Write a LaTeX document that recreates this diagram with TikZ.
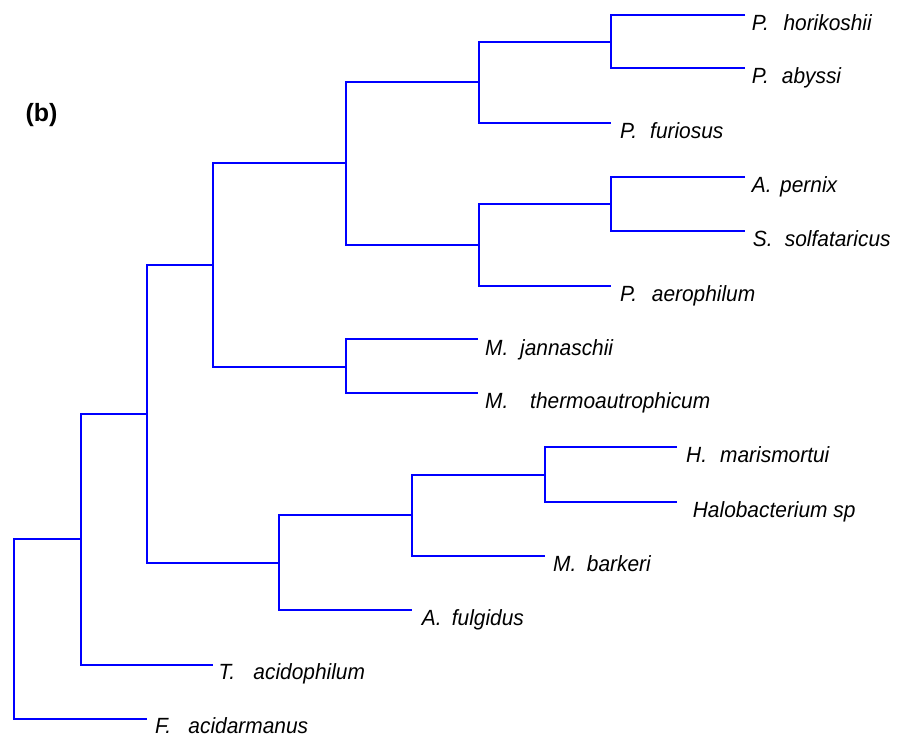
\documentclass[tikz,border=0pt]{standalone}
\usepackage{fontspec}
\newfontfamily\labfont{Liberation Sans}[FakeStretch=0.95]
\newfontfamily\tagfont{Liberation Sans}
\definecolor{treeblue}{RGB}{0,0,255}
\tikzset{
  branch/.style={draw=treeblue, line width=1.35pt},
  taxon/.style={anchor=base west, inner sep=0pt, text=black, font=\labfont\fontsize{22}{24}\selectfont\itshape},
}
\newcommand{\gen}[2]{\makebox[#1pt][l]{#2}}
\begin{document}
\begin{tikzpicture}[x=1pt,y=-1pt]
\useasboundingbox (0,0) rectangle (902,739);
% internal nodes
\coordinate (root) at (14,629);
\coordinate (n80) at (81,539);
\coordinate (n147) at (147,414);
\coordinate (n213) at (213,265);
\coordinate (n346a) at (346,163);
\coordinate (n480a) at (479,82);
\coordinate (n611a) at (611,42);
\coordinate (n480b) at (479,245);
\coordinate (n611b) at (611,204);
\coordinate (n346b) at (346,367);
\coordinate (n278) at (279,563);
\coordinate (n412) at (412,515);
\coordinate (n545) at (545,475);
% leaf ends
\coordinate (Phor) at (745,15);
\coordinate (Paby) at (745,68);
\coordinate (Pfur) at (611,123);
\coordinate (Aper) at (745,177);
\coordinate (Ssol) at (745,231);
\coordinate (Paer) at (611,286);
\coordinate (Mjan) at (478,339);
\coordinate (Mthe) at (478,393);
\coordinate (Hmar) at (677,447);
\coordinate (Halo) at (677,502);
\coordinate (Mbar) at (545,556);
\coordinate (Aful) at (412,610);
\coordinate (Taci) at (213,665);
\coordinate (Faci) at (147,719);
% branches
\draw[branch] (n80) -| (root) |- (Faci);
\draw[branch] (n147) -| (n80) |- (Taci);
\draw[branch] (n213) -| (n147) |- (n278);
\draw[branch] (n346a) -| (n213) |- (n346b);
\draw[branch] (n480a) -| (n346a) |- (n480b);
\draw[branch] (n611a) -| (n480a) |- (Pfur);
\draw[branch] (Phor) -| (n611a) |- (Paby);
\draw[branch] (n611b) -| (n480b) |- (Paer);
\draw[branch] (Aper) -| (n611b) |- (Ssol);
\draw[branch] (Mjan) -| (n346b) |- (Mthe);
\draw[branch] (n412) -| (n278) |- (Aful);
\draw[branch] (n545) -| (n412) |- (Mbar);
\draw[branch] (Hmar) -| (n545) |- (Halo);
% labels
\node[taxon] (lPhor) at (751.7,30) {\gen{31.6}{P.}horikoshii};
\node[taxon] (lPaby) at (751.7,83.5) {\gen{30}{P.}abyssi};
\node[taxon] (lPfur) at (620,138) {\gen{30}{P.}furiosus};
\node[taxon] (lAper) at (751.7,192) {\gen{28.3}{A.}pernix};
\node[taxon] (lSsol) at (752.7,246) {\gen{32}{S.}solfataricus};
\node[taxon] (lPaer) at (620,301) {\gen{31.7}{P.}aerophilum};
\node[taxon] (lMjan) at (485,355) {\gen{35}{M.}jannaschii};
\node[taxon] (lMthe) at (485,408.5) {\gen{45}{M.}thermoautrophicum};
\node[taxon] (lHmar) at (686,462.5) {\gen{34}{H.}marismortui};
\node[taxon] (lHalo) at (692.7,517) {Halobacterium sp};
\node[taxon] (lMbar) at (553,571) {\gen{33.7}{M.}barkeri};
\node[taxon] (lAful) at (421.7,625) {\gen{30}{A.}fulgidus};
\node[taxon] (lTaci) at (218.3,679) {\gen{35}{T.}acidophilum};
\node[taxon] (lFaci) at (155,733.5) {\gen{33.3}{F.}acidarmanus};
\node[font=\tagfont\bfseries\fontsize{25}{28}\selectfont, inner sep=0pt] (tag) at (41.5,115) {(b)};
\end{tikzpicture}
\end{document}
